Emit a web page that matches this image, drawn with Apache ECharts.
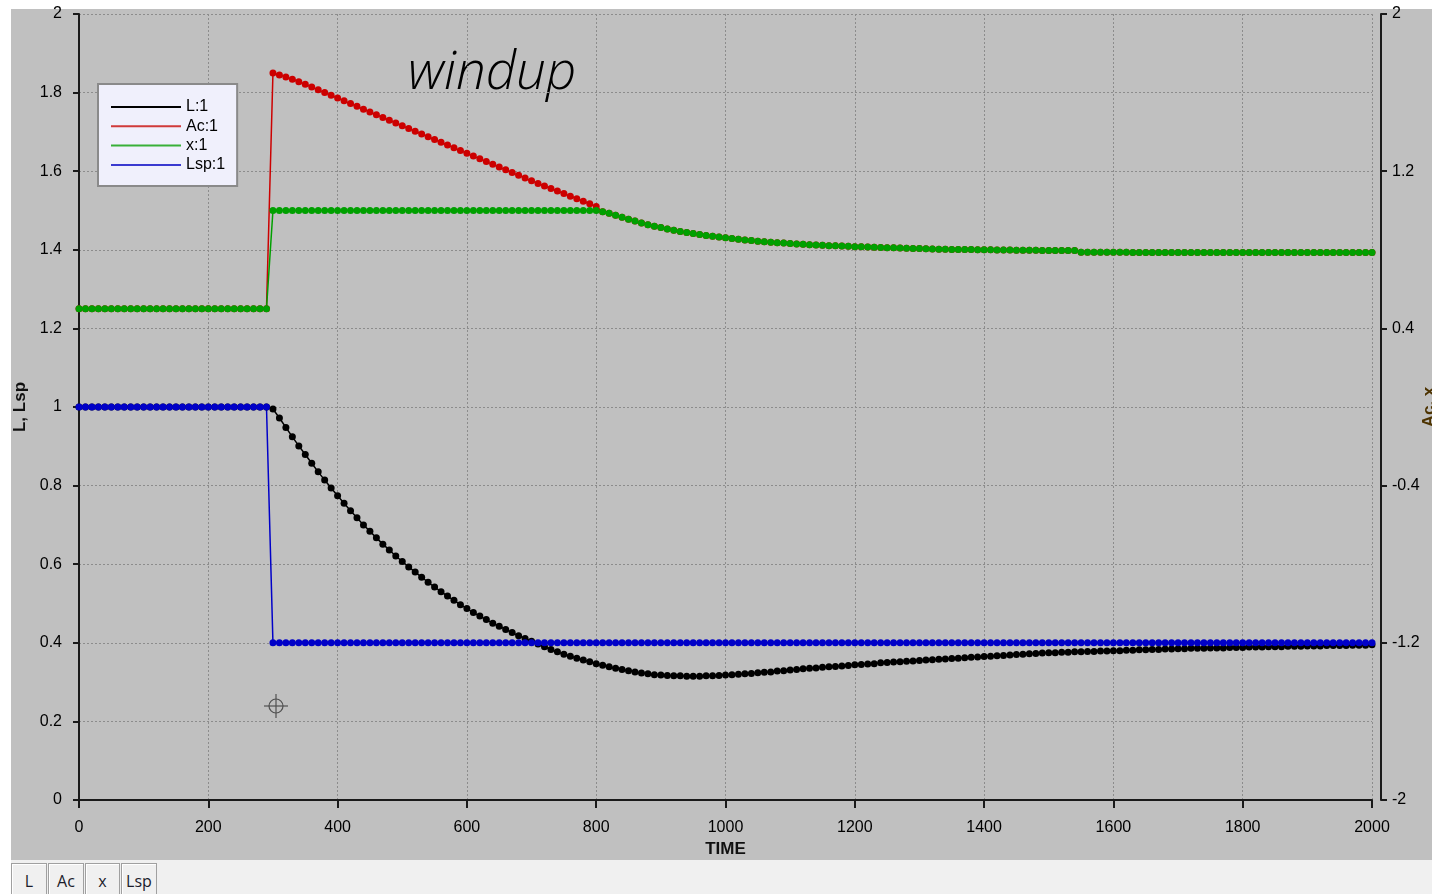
<!DOCTYPE html>
<html>
<head>
<meta charset="utf-8">
<title>windup</title>
<script src="https://cdn.jsdelivr.net/npm/echarts@6/dist/echarts.min.js"></script>
<style>
  html, body { margin: 0; padding: 0; background: #ffffff; width: 1432px; height: 894px; overflow: hidden; }
  #chart { position: absolute; left: 11px; top: 0; width: 1421px; height: 860px;
           background: linear-gradient(#ffffff 0, #ffffff 9px, #c0c0c0 9px, #c0c0c0 100%); }
  #tabs { position: absolute; left: 11px; top: 860px; width: 1421px; height: 34px; background: #f0f0f0; }
  .tab { position: absolute; top: 3px; height: 31px; box-sizing: border-box; border: 1px solid #a0a0a0; border-bottom: none;
         box-shadow: inset 1px 1px 0 #ffffff; background: #f0f0f0; font: 16px "Open Sans", sans-serif; color: #1c1c2c;
         text-align: center; line-height: 35px; }
</style>
</head>
<body>
<div id="chart"></div>
<div id="tabs">
  <div class="tab" style="left:0;width:36px">L</div>
  <div class="tab" style="left:37px;width:36px">Ac</div>
  <div class="tab" style="left:74px;width:35px">x</div>
  <div class="tab" style="left:110px;width:36px">Lsp</div>
</div>
<script>
// Logged trace, one sample every 10 time units from 0 to 2000.
const TIME_STEP = 10;

// L and Lsp are plotted on the left axis (L, Lsp).
const levelL = [
  1, 1, 1, 1, 1, 1, 1, 1, 1, 1,
  1, 1, 1, 1, 1, 1, 1, 1, 1, 1,
  1, 1, 1, 1, 1, 1, 1, 1, 1, 1,
  0.995, 0.972, 0.948, 0.924, 0.901, 0.879, 0.857, 0.835, 0.814, 0.794,
  0.774, 0.755, 0.736, 0.718, 0.700, 0.684, 0.667, 0.651, 0.636, 0.621,
  0.607, 0.593, 0.580, 0.567, 0.554, 0.542, 0.530, 0.519, 0.508, 0.497,
  0.487, 0.477, 0.468, 0.459, 0.450, 0.442, 0.434, 0.426, 0.418, 0.411,
  0.404, 0.397, 0.390, 0.383, 0.377, 0.371, 0.366, 0.361, 0.356, 0.352,
  0.347, 0.343, 0.339, 0.335, 0.332, 0.329, 0.326, 0.323, 0.321, 0.319,
  0.318, 0.317, 0.316, 0.316, 0.315, 0.315, 0.315, 0.316, 0.316, 0.317,
  0.318, 0.319, 0.320, 0.321, 0.322, 0.324, 0.325, 0.326, 0.328, 0.329,
  0.331, 0.332, 0.334, 0.335, 0.336, 0.338, 0.339, 0.340, 0.341, 0.342,
  0.344, 0.345, 0.346, 0.347, 0.349, 0.350, 0.351, 0.352, 0.353, 0.354,
  0.355, 0.356, 0.357, 0.358, 0.359, 0.360, 0.361, 0.362, 0.363, 0.364,
  0.365, 0.366, 0.367, 0.368, 0.369, 0.370, 0.371, 0.372, 0.373, 0.374,
  0.375, 0.375, 0.376, 0.376, 0.377, 0.377, 0.378, 0.378, 0.379, 0.379,
  0.380, 0.380, 0.381, 0.381, 0.382, 0.382, 0.383, 0.383, 0.384, 0.384,
  0.385, 0.385, 0.386, 0.386, 0.386, 0.387, 0.387, 0.387, 0.388, 0.388,
  0.388, 0.389, 0.389, 0.389, 0.390, 0.390, 0.390, 0.391, 0.391, 0.391,
  0.392, 0.392, 0.392, 0.393, 0.393, 0.393, 0.393, 0.394, 0.394, 0.394,
  0.395
];

const setpointLsp = [
  1, 1, 1, 1, 1, 1, 1, 1, 1, 1,
  1, 1, 1, 1, 1, 1, 1, 1, 1, 1,
  1, 1, 1, 1, 1, 1, 1, 1, 1, 1,
  0.4, 0.4, 0.4, 0.4, 0.4, 0.4, 0.4, 0.4, 0.4, 0.4,
  0.4, 0.4, 0.4, 0.4, 0.4, 0.4, 0.4, 0.4, 0.4, 0.4,
  0.4, 0.4, 0.4, 0.4, 0.4, 0.4, 0.4, 0.4, 0.4, 0.4,
  0.4, 0.4, 0.4, 0.4, 0.4, 0.4, 0.4, 0.4, 0.4, 0.4,
  0.4, 0.4, 0.4, 0.4, 0.4, 0.4, 0.4, 0.4, 0.4, 0.4,
  0.4, 0.4, 0.4, 0.4, 0.4, 0.4, 0.4, 0.4, 0.4, 0.4,
  0.4, 0.4, 0.4, 0.4, 0.4, 0.4, 0.4, 0.4, 0.4, 0.4,
  0.4, 0.4, 0.4, 0.4, 0.4, 0.4, 0.4, 0.4, 0.4, 0.4,
  0.4, 0.4, 0.4, 0.4, 0.4, 0.4, 0.4, 0.4, 0.4, 0.4,
  0.4, 0.4, 0.4, 0.4, 0.4, 0.4, 0.4, 0.4, 0.4, 0.4,
  0.4, 0.4, 0.4, 0.4, 0.4, 0.4, 0.4, 0.4, 0.4, 0.4,
  0.4, 0.4, 0.4, 0.4, 0.4, 0.4, 0.4, 0.4, 0.4, 0.4,
  0.4, 0.4, 0.4, 0.4, 0.4, 0.4, 0.4, 0.4, 0.4, 0.4,
  0.4, 0.4, 0.4, 0.4, 0.4, 0.4, 0.4, 0.4, 0.4, 0.4,
  0.4, 0.4, 0.4, 0.4, 0.4, 0.4, 0.4, 0.4, 0.4, 0.4,
  0.4, 0.4, 0.4, 0.4, 0.4, 0.4, 0.4, 0.4, 0.4, 0.4,
  0.4, 0.4, 0.4, 0.4, 0.4, 0.4, 0.4, 0.4, 0.4, 0.4,
  0.4
];

// Ac (controller output) and x (clamped actuator) are plotted on the right axis (Ac, x).
const controllerAc = [
  0.5, 0.5, 0.5, 0.5, 0.5, 0.5, 0.5, 0.5, 0.5, 0.5,
  0.5, 0.5, 0.5, 0.5, 0.5, 0.5, 0.5, 0.5, 0.5, 0.5,
  0.5, 0.5, 0.5, 0.5, 0.5, 0.5, 0.5, 0.5, 0.5, 0.5,
  1.700, 1.690, 1.680, 1.668, 1.655, 1.642, 1.628, 1.614, 1.600, 1.586,
  1.572, 1.558, 1.544, 1.530, 1.515, 1.501, 1.487, 1.473, 1.459, 1.445,
  1.431, 1.417, 1.403, 1.389, 1.375, 1.361, 1.347, 1.333, 1.319, 1.305,
  1.291, 1.277, 1.263, 1.249, 1.235, 1.221, 1.207, 1.193, 1.179, 1.165,
  1.151, 1.138, 1.125, 1.112, 1.099, 1.086, 1.073, 1.060, 1.047, 1.034,
  1.020, 0.994, 0.986, 0.976, 0.966, 0.956, 0.946, 0.936, 0.928, 0.920,
  0.913, 0.906, 0.899, 0.893, 0.888, 0.883, 0.878, 0.873, 0.869, 0.865,
  0.861, 0.857, 0.854, 0.850, 0.847, 0.844, 0.841, 0.839, 0.836, 0.834,
  0.832, 0.830, 0.828, 0.826, 0.824, 0.823, 0.821, 0.820, 0.819, 0.818,
  0.816, 0.815, 0.814, 0.813, 0.812, 0.811, 0.810, 0.809, 0.808, 0.807,
  0.806, 0.805, 0.804, 0.803, 0.803, 0.802, 0.802, 0.801, 0.801, 0.800,
  0.800, 0.800, 0.799, 0.799, 0.799, 0.798, 0.798, 0.798, 0.798, 0.797,
  0.797, 0.797, 0.797, 0.796, 0.796, 0.788, 0.788, 0.788, 0.787, 0.787,
  0.787, 0.787, 0.787, 0.786, 0.786, 0.786, 0.786, 0.786, 0.786, 0.786,
  0.786, 0.786, 0.786, 0.786, 0.786, 0.786, 0.786, 0.786, 0.786, 0.786,
  0.786, 0.786, 0.786, 0.786, 0.786, 0.786, 0.786, 0.786, 0.786, 0.786,
  0.786, 0.786, 0.786, 0.786, 0.786, 0.786, 0.786, 0.786, 0.786, 0.786,
  0.786
];

const actuatorX = [
  0.5, 0.5, 0.5, 0.5, 0.5, 0.5, 0.5, 0.5, 0.5, 0.5,
  0.5, 0.5, 0.5, 0.5, 0.5, 0.5, 0.5, 0.5, 0.5, 0.5,
  0.5, 0.5, 0.5, 0.5, 0.5, 0.5, 0.5, 0.5, 0.5, 0.5,
  1, 1, 1, 1, 1, 1, 1, 1, 1, 1,
  1, 1, 1, 1, 1, 1, 1, 1, 1, 1,
  1, 1, 1, 1, 1, 1, 1, 1, 1, 1,
  1, 1, 1, 1, 1, 1, 1, 1, 1, 1,
  1, 1, 1, 1, 1, 1, 1, 1, 1, 1,
  1, 0.994, 0.986, 0.976, 0.966, 0.956, 0.946, 0.936, 0.928, 0.920,
  0.913, 0.906, 0.899, 0.893, 0.888, 0.883, 0.878, 0.873, 0.869, 0.865,
  0.861, 0.857, 0.854, 0.850, 0.847, 0.844, 0.841, 0.839, 0.836, 0.834,
  0.832, 0.830, 0.828, 0.826, 0.824, 0.823, 0.821, 0.820, 0.819, 0.818,
  0.816, 0.815, 0.814, 0.813, 0.812, 0.811, 0.810, 0.809, 0.808, 0.807,
  0.806, 0.805, 0.804, 0.803, 0.803, 0.802, 0.802, 0.801, 0.801, 0.800,
  0.800, 0.800, 0.799, 0.799, 0.799, 0.798, 0.798, 0.798, 0.798, 0.797,
  0.797, 0.797, 0.797, 0.796, 0.796, 0.788, 0.788, 0.788, 0.787, 0.787,
  0.787, 0.787, 0.787, 0.786, 0.786, 0.786, 0.786, 0.786, 0.786, 0.786,
  0.786, 0.786, 0.786, 0.786, 0.786, 0.786, 0.786, 0.786, 0.786, 0.786,
  0.786, 0.786, 0.786, 0.786, 0.786, 0.786, 0.786, 0.786, 0.786, 0.786,
  0.786, 0.786, 0.786, 0.786, 0.786, 0.786, 0.786, 0.786, 0.786, 0.786,
  0.786
];

const seriesNames = ['L:1', 'Ac:1', 'x:1', 'Lsp:1'];
const markerColors = ['#000000', '#cc0000', '#00a000', '#0000c8'];
const legendColors = ['#000000', '#d03a3a', '#38b038', '#3a3ad0'];

const LABEL_FONT = '"Liberation Sans", Arial, sans-serif';

function asPairs(values) {
  return values.map((v, i) => [i * TIME_STEP, v]);
}
function tidy(v) {
  return String(+v.toFixed(2));
}

function lineSeries(idx, values, yAxisIndex) {
  return {
    name: seriesNames[idx],
    type: 'line',
    yAxisIndex: yAxisIndex,
    data: asPairs(values),
    symbol: 'circle',
    symbolSize: 7,
    showAllSymbol: true,
    lineStyle: { color: markerColors[idx], width: 1.5 },
    itemStyle: { color: markerColors[idx] },
    emphasis: { disabled: true },
    animation: false
  };
}

const axisLineStyle = { color: '#1a1a1a', width: 2 };
const gridLineStyle = { color: '#8c8c8c', type: [2, 2], width: 1 };

const chart = echarts.init(document.getElementById('chart'), null, { renderer: 'canvas' });
chart.setOption({
  animation: false,
  grid: { left: 68, top: 14, right: 60, bottom: 60, containLabel: false, outerBoundsMode: 'none' },
  legend: {
    orient: 'vertical',
    left: 87,
    top: 84,
    padding: [15, 12, 13, 13],
    backgroundColor: '#f0f0fc',
    borderColor: '#8a8a8a',
    borderWidth: 2,
    borderRadius: 0,
    itemWidth: 70,
    itemHeight: 2,
    itemGap: 3.3,
    icon: 'rect',
    selectedMode: false,
    textStyle: { fontFamily: LABEL_FONT, fontSize: 16, lineHeight: 16, color: '#000' },
    data: seriesNames.map((n, i) => ({ name: n, itemStyle: { color: legendColors[i] } }))
  },
  xAxis: {
    type: 'value',
    min: 0, max: 2000, interval: 200,
    offset: 9,
    name: 'TIME',
    nameLocation: 'middle',
    nameGap: 32,
    nameTextStyle: { fontFamily: LABEL_FONT, fontSize: 17, fontWeight: 'bold', color: '#101010' },
    axisLine: { show: true, lineStyle: axisLineStyle },
    axisTick: { show: true, length: 8, lineStyle: axisLineStyle },
    axisLabel: { margin: 11, fontFamily: LABEL_FONT, fontSize: 16, color: '#000', formatter: tidy },
    splitLine: { show: true, showMinLine: true, showMaxLine: true, lineStyle: gridLineStyle }
  },
  yAxis: [
    {
      type: 'value',
      position: 'left',
      min: 0, max: 2, interval: 0.2,
      offset: 9,
      name: 'L, Lsp',
      nameLocation: 'middle',
      nameRotate: 90,
      nameGap: 41,
      nameTextStyle: { fontFamily: LABEL_FONT, fontSize: 17, fontWeight: 'bold', color: '#101010' },
      axisLine: { show: true, lineStyle: axisLineStyle },
      axisTick: { show: true, length: 6, lineStyle: axisLineStyle },
      axisLabel: { margin: 8, fontFamily: LABEL_FONT, fontSize: 16, color: '#000', formatter: tidy },
      splitLine: { show: true, showMinLine: true, showMaxLine: true, lineStyle: gridLineStyle }
    },
    {
      type: 'value',
      position: 'right',
      min: -2, max: 2, interval: 0.8,
      offset: 9,
      name: 'Ac, x',
      nameLocation: 'middle',
      nameRotate: 90,
      nameGap: 40,
      nameMoveOverlap: false,
      nameTextStyle: { fontFamily: LABEL_FONT, fontSize: 17, fontWeight: 'bold', color: '#4d3300' },
      axisLine: { show: true, lineStyle: axisLineStyle },
      axisTick: { show: true, length: 6, lineStyle: axisLineStyle },
      axisLabel: { margin: 11, fontFamily: LABEL_FONT, fontSize: 16, color: '#000', formatter: tidy },
      splitLine: { show: false }
    }
  ],
  graphic: [
    {
      type: 'text',
      left: 397,
      top: 47,
      style: { text: 'windup', font: 'italic 300 53px "Open Sans", sans-serif', fill: '#000' }
    },
    {
      type: 'group',
      x: 265, y: 706,
      children: [
        { type: 'circle', shape: { cx: 0, cy: 0, r: 7 }, style: { fill: 'none', stroke: '#505050', lineWidth: 1.2 } },
        { type: 'line', shape: { x1: -12, y1: 0, x2: 12, y2: 0 }, style: { stroke: '#505050', lineWidth: 1.2 } },
        { type: 'line', shape: { x1: 0, y1: -12, x2: 0, y2: 12 }, style: { stroke: '#505050', lineWidth: 1.2 } }
      ]
    }
  ],
  series: [
    lineSeries(0, levelL, 0),
    lineSeries(1, controllerAc, 1),
    lineSeries(2, actuatorX, 1),
    lineSeries(3, setpointLsp, 0)
  ]
});
</script>
</body>
</html>
